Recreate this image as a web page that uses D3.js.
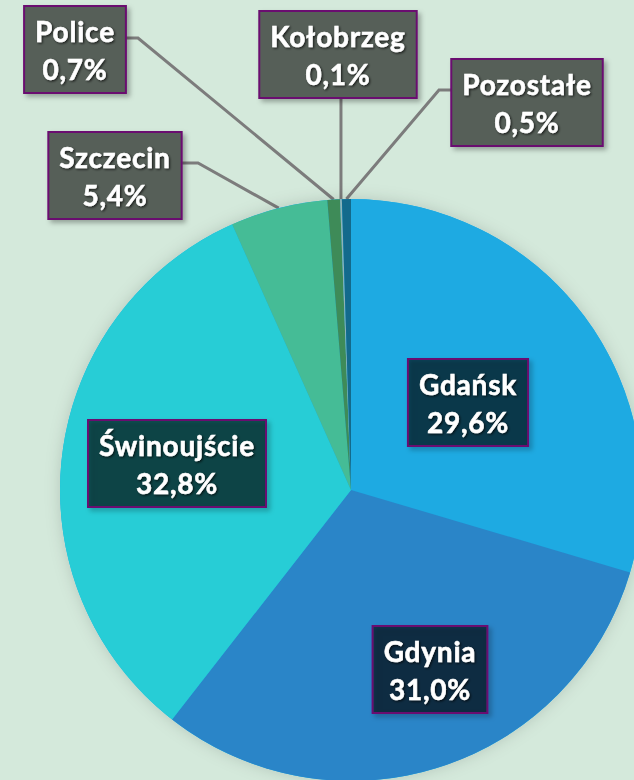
<!DOCTYPE html>
<html>
<head>
<meta charset="utf-8">
<script src="https://cdn.jsdelivr.net/npm/d3@7"></script>
<style>
  html, body { margin: 0; padding: 0; background: #d4e9db; }
  svg { display: block; }
</style>
</head>
<body>
<svg id="chart" width="634" height="780"></svg>
<script>
// Port share data
const ports = ["Gdańsk", "Gdynia", "Świnoujście", "Szczecin", "Police", "Kołobrzeg", "Pozostałe"];
const shares = [29.6, 31.0, 32.8, 5.4, 0.7, 0.1, 0.5];
const colors = ["#1eaae2", "#2a85c8", "#27cdd6", "#45bc96", "#3e8b58", "#8fb3b8", "#136a8c"];

// Label box placement (center x, top y), inside / outside
const labelPos = {
    "Gdańsk": { cx: 468, top: 359, inside: true },
    "Gdynia": { cx: 430, top: 626, inside: true },
    "Świnoujście": { cx: 177, top: 420, inside: true },
    "Szczecin": { cx: 115, top: 132, elbow: [198, 163], side: "right" },
    "Police": { cx: 75, top: 6, elbow: [138, 38], side: "right" },
    "Kołobrzeg": { cx: 338, top: 11, elbow: null, side: "bottom" },
    "Pozostałe": { cx: 527, top: 59, elbow: [439, 90], side: "left" }
};

const svg = d3.select("#chart");
const cx = 351, cy = 490, radius = 291;

const defs = svg.append("defs");
const pieShadow = defs.append("filter").attr("id", "pieShadow")
    .attr("x", "-20%").attr("y", "-20%").attr("width", "140%").attr("height", "140%");
pieShadow.append("feDropShadow").attr("dx", 0).attr("dy", 0)
    .attr("stdDeviation", 8).attr("flood-color", "#000").attr("flood-opacity", 0.15);

const boxShadow = defs.append("filter").attr("id", "boxShadow")
    .attr("x", "-20%").attr("y", "-20%").attr("width", "140%").attr("height", "140%");
boxShadow.append("feDropShadow").attr("dx", 3).attr("dy", 3)
    .attr("stdDeviation", 2.5).attr("flood-color", "#000").attr("flood-opacity", 0.3);

const textShadow = defs.append("filter").attr("id", "textShadow")
    .attr("x", "-10%").attr("y", "-30%").attr("width", "120%").attr("height", "160%");
textShadow.append("feDropShadow").attr("dx", 1.2).attr("dy", 1.2)
    .attr("stdDeviation", 0.8).attr("flood-color", "#000").attr("flood-opacity", 0.7);

const data = ports.map((p, i) => ({ port: p, value: shares[i], color: colors[i] }));

const pie = d3.pie().value(d => d.value).sort(null);
const arc = d3.arc().innerRadius(0).outerRadius(radius);
const arcs = pie(data);

const g = svg.append("g").attr("transform", `translate(${cx},${cy})`);

g.append("circle").attr("r", radius).attr("fill", "#1eaae2").attr("filter", "url(#pieShadow)");

g.selectAll("path.slice")
    .data(arcs)
    .enter()
    .append("path")
    .attr("class", "slice")
    .attr("d", arc)
    .attr("fill", d => d.data.color);

const fmt = v => v.toFixed(1).replace(".", ",") + "%";

// Leader lines and labels
const labels = svg.append("g");

const addText = (sel, x, y, str) => sel.append("text")
    .attr("text-anchor", "middle")
    .attr("x", x)
    .attr("y", y)
    .attr("fill", "#fff")
    .attr("stroke", "#fff")
    .attr("stroke-width", 0.5)
    .attr("font-family", "Lato, 'Open Sans', sans-serif")
    .attr("font-weight", "bold")
    .attr("font-size", 28)
    .attr("letter-spacing", 0.8)
    .attr("filter", "url(#textShadow)")
    .text(str);

arcs.forEach(a => {
    const pos = labelPos[a.data.port];
    const box = labels.append("g");

    const name = addText(box, pos.cx, pos.top + 36, a.data.port);
    const pct = addText(box, pos.cx, pos.top + 74, fmt(a.data.value));

    const w = Math.max(name.node().getComputedTextLength(), pct.node().getComputedTextLength()) + 22;
    const h = 87;
    const x0 = pos.cx - w / 2;

    box.insert("rect", "text")
        .attr("x", x0)
        .attr("y", pos.top)
        .attr("width", w)
        .attr("height", h)
        .attr("fill", pos.inside ? "rgba(0,0,0,0.6)" : "#565e58")
        .attr("stroke", "#6a1070")
        .attr("stroke-width", 2)
        .attr("filter", "url(#boxShadow)");

    if (!pos.inside) {
        const mid = (a.startAngle + a.endAngle) / 2;
        const px = cx + radius * Math.sin(mid);
        const py = cy - radius * Math.cos(mid);
        let pts;
        if (pos.side === "right") pts = [[x0 + w, pos.elbow[1]], pos.elbow, [px, py]];
        else if (pos.side === "left") pts = [[x0, pos.elbow[1]], pos.elbow, [px, py]];
        else pts = [[px, pos.top + h], [px, py]];
        svg.insert("path", "g")
            .attr("d", d3.line()(pts))
            .attr("fill", "none")
            .attr("stroke", "#7c7c7c")
            .attr("stroke-width", 3);
    }
});
</script>
</body>
</html>
